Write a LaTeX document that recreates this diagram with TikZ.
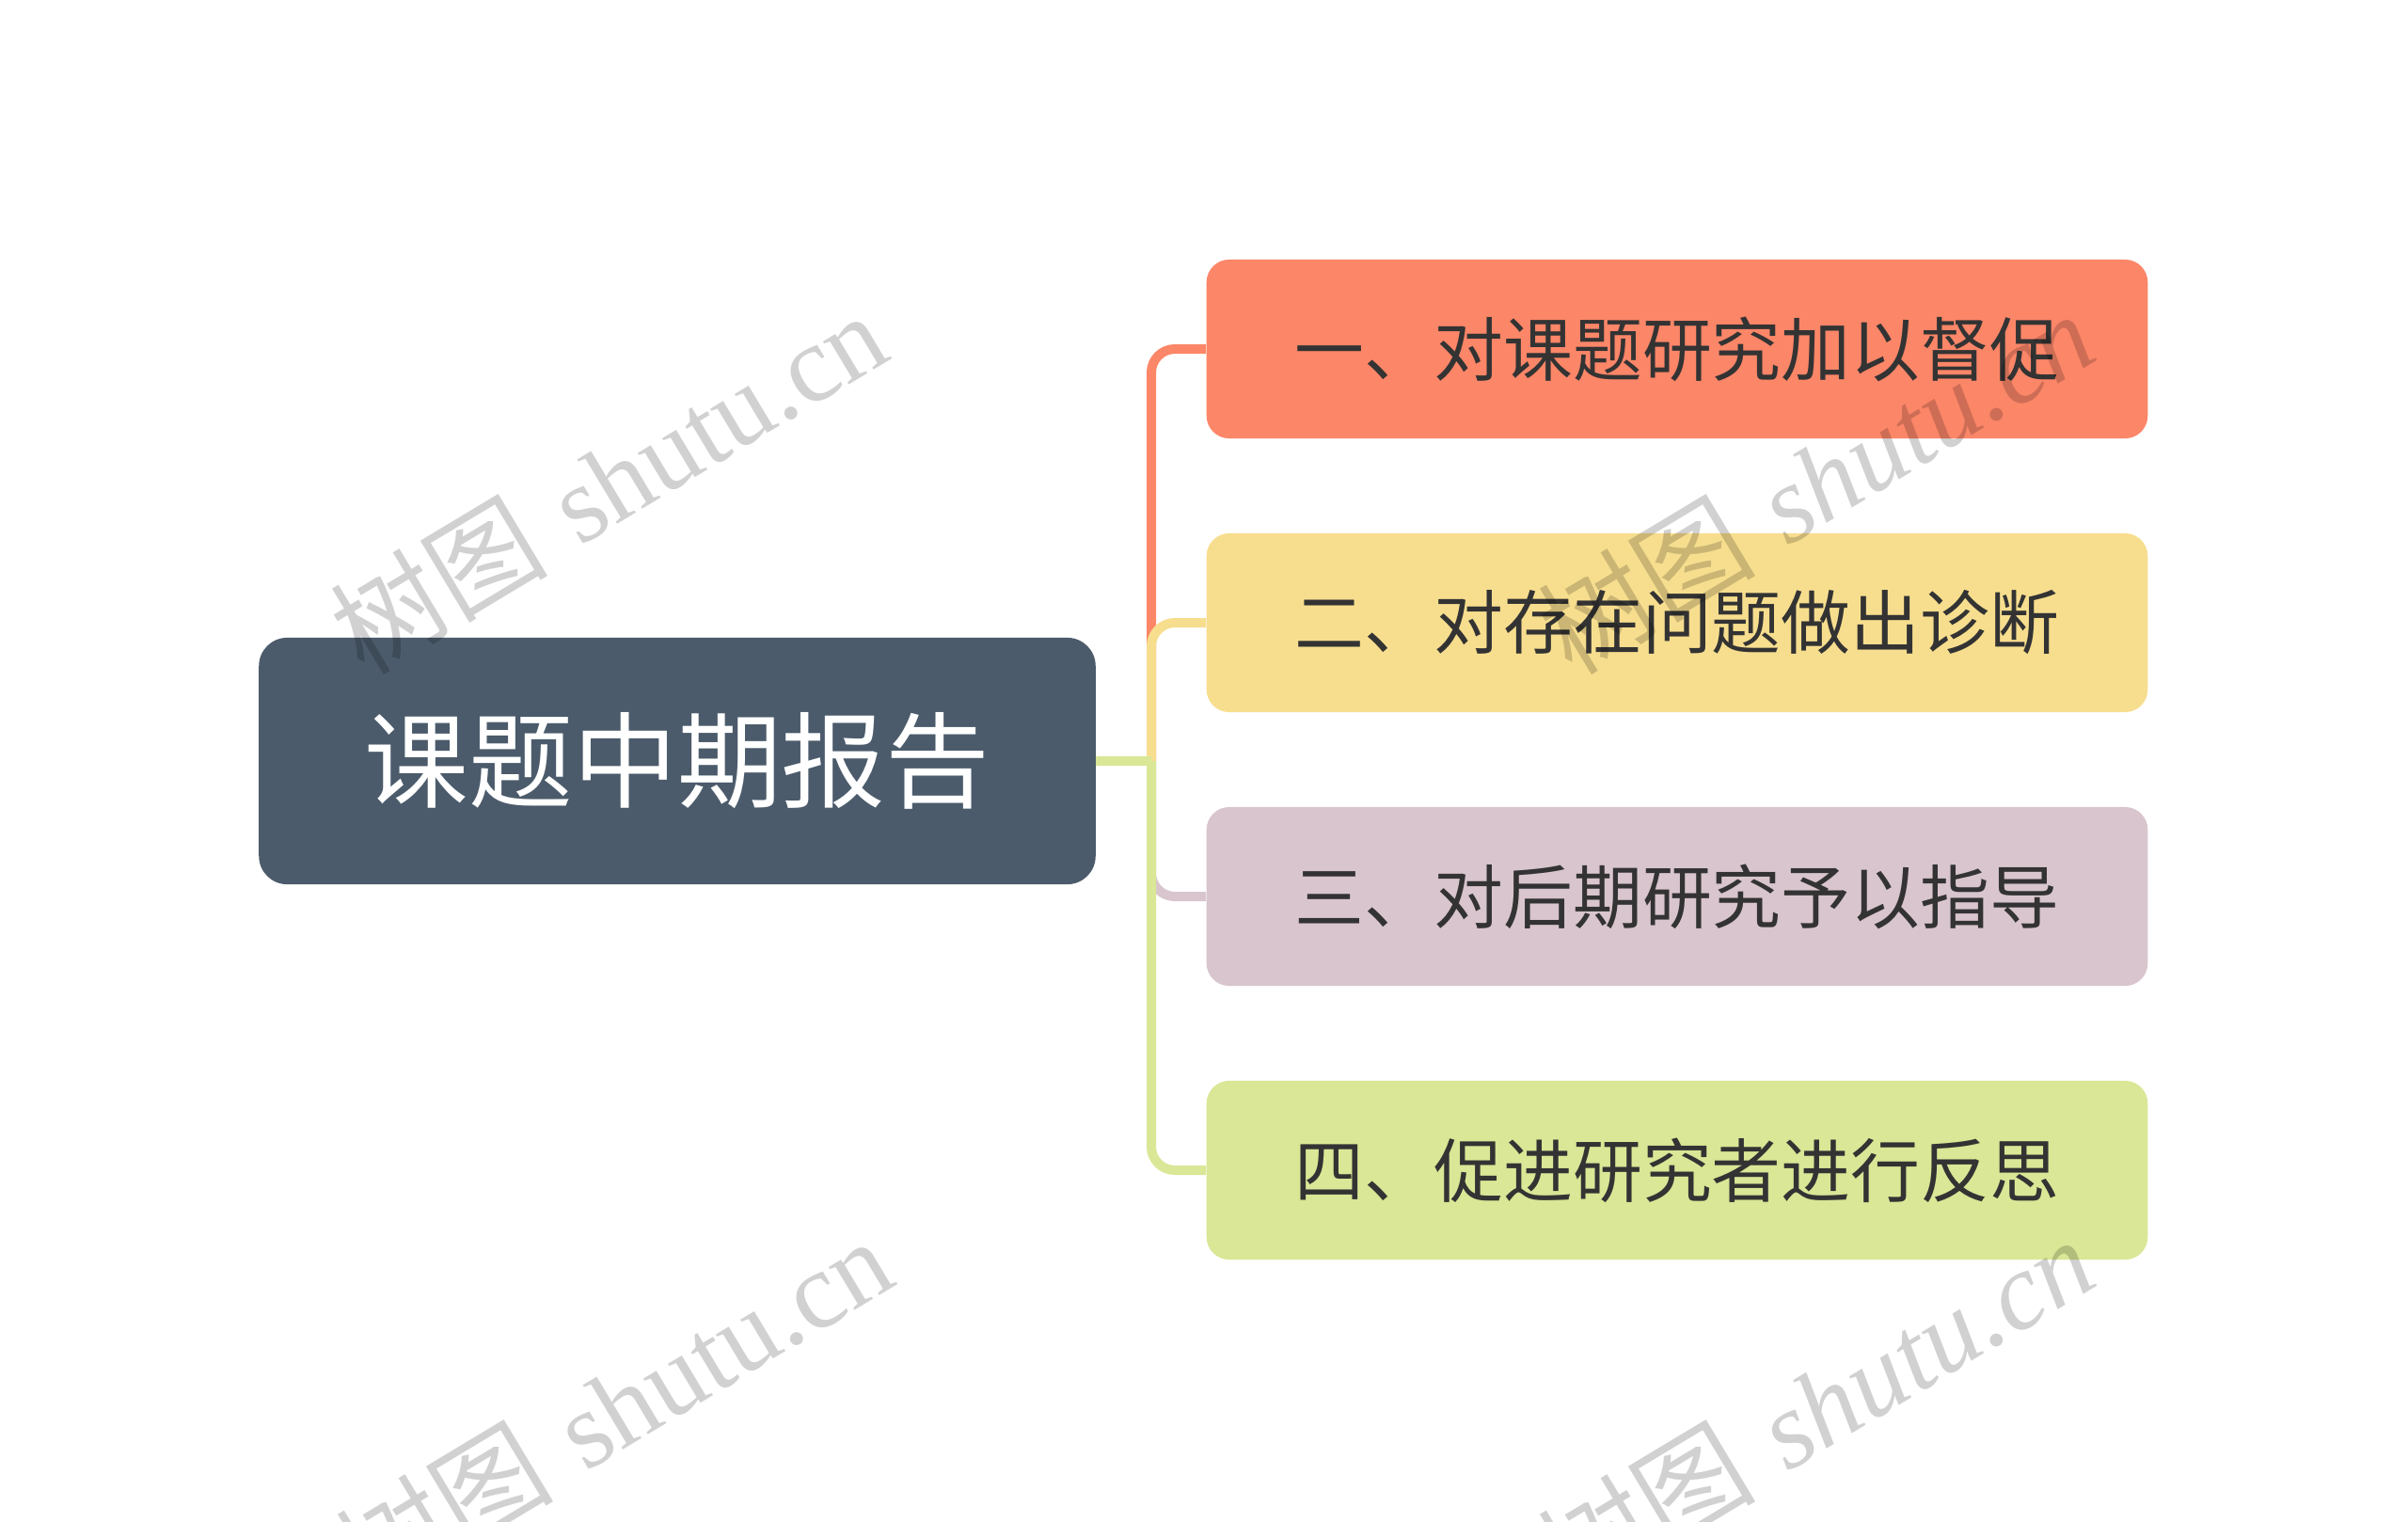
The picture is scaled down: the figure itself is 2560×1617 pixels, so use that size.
\documentclass[tikz,border=0pt]{standalone}
\usepackage{fontspec}
\newfontfamily\cjk{Noto Sans CJK SC}
\newfontfamily\wmserif{Liberation Serif}
\usetikzlibrary{positioning}

\definecolor{rootbg}{HTML}{4B5B6B}
\definecolor{tone1}{HTML}{FC8668}
\definecolor{tone2}{HTML}{F7DE8E}
\definecolor{tone3}{HTML}{D9C5CE}
\definecolor{tone4}{HTML}{D9E796}
\definecolor{leaftext}{HTML}{333333}

\begin{document}
\begin{tikzpicture}[x=0.01cm,y=-0.01cm,
  rootbox/.style={fill=rootbg,rounded corners=0.3cm,minimum width=8.89cm,minimum height=2.62cm,
    text=white,font=\cjk\fontsize{31.5pt}{31.5pt}\selectfont,inner sep=0pt},
  leafbox/.style={rounded corners=0.24cm,minimum width=10cm,minimum height=1.9cm,
    text=leaftext,font=\cjk\fontsize{21pt}{21pt}\selectfont,inner sep=0pt},
  branch/.style={line width=0.1cm,rounded corners=0.25cm},
  stamp/.style={text=black,text opacity=0.18,rotate=31,font=\fontsize{33pt}{33pt}\selectfont}]
\useasboundingbox[fill=white] (0,0) rectangle (2560,1617);

\node[rootbox] (root) at (720,809) {课题中期报告};

\node[leafbox,fill=tone1] (t1) at (1783,371) {一、对课题研究加以督促};
\node[leafbox,fill=tone2] (t2) at (1783,662) {二、对存在问题做出诊断};
\node[leafbox,fill=tone3] (t3) at (1783,953) {三、对后期研究予以指导};
\node[leafbox,fill=tone4] (t4) at (1783,1244) {四、促进研究者进行反思};

\coordinate (hub) at (1224,809);
\draw[branch,tone1] (hub) |- (t1.west);
\draw[branch,tone2] (hub) |- (t2.west);
\draw[branch,tone3] (hub) |- (t3.west);
\draw[branch,tone4] (hub) |- (t4.west);
\draw[branch,tone4] (root.east) -- (hub);

% watermarks
\node[stamp] (wm1) at (646,512) {{\cjk 树图} \wmserif shutu.cn};
\node[stamp] (wm2) at (1930,512) {{\cjk 树图} \wmserif\itshape shutu.cn};
\node[stamp] (wm3) at (652,1496) {{\cjk 树图} \wmserif shutu.cn};
\node[stamp] (wm4) at (1930,1496) {{\cjk 树图} \wmserif\itshape shutu.cn};
\end{tikzpicture}
\end{document}
